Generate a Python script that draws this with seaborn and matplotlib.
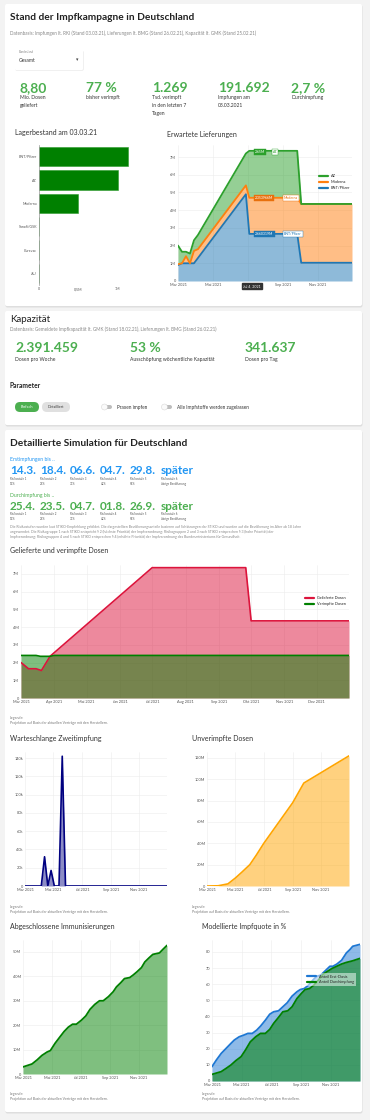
#%% imports
import numpy as np
import pandas as pd
import matplotlib
matplotlib.use('Agg')
import matplotlib.pyplot as plt
import seaborn as sns
from matplotlib.patches import FancyBboxPatch, Circle
from matplotlib.lines import Line2D

#%% data
lager_hersteller = ['BNT/Pfizer', 'AZ', 'Moderna', 'Sanofi/GSK', 'Curevac', 'J&J']
lager_bestand = [1.13e6, 1.0e6, 0.5e6, 0, 0, 0]

liefer_daten = ['2021-03-01', '2021-03-08', '2021-03-15', '2021-03-22', '2021-03-29', '2021-04-05',
                '2021-06-28', '2021-07-04', '2021-09-26', '2021-10-03', '2021-12-31']
liefer_bnt = [0.9, 1.0, 1.0, 1.0, 1.0, 1.3, 4.9, 2.66, 2.66, 1.03, 1.03]
liefer_moderna = [0.05, 0.0, 0.4, 0.0, 0.7, 0.5, 0.5, 2.04, 2.04, 3.32, 3.32]
liefer_az = [1.05, 0.65, 0.25, 0.55, 0.6, 0.8, 1.8, 2.65, 2.65, 0.0, 0.0]

geliefert_daten = ['2021-03-01', '2021-03-08', '2021-03-15', '2021-03-20', '2021-03-28',
                   '2021-07-01', '2021-09-26', '2021-10-01', '2021-12-31']
geliefert_werte = [2.0, 1.65, 1.65, 1.55, 2.35, 7.35, 7.35, 4.35, 4.35]
verimpft_daten = ['2021-03-01', '2021-03-15', '2021-03-19', '2021-03-28', '2021-04-01', '2021-12-31']
verimpft_werte = [2.4, 2.4, 2.35, 2.35, 2.4, 2.4]

warte_daten = ['2021-03-01', '2021-04-05', '2021-04-12', '2021-04-19', '2021-04-26', '2021-05-03',
               '2021-05-13', '2021-05-20', '2021-05-27', '2021-12-31']
warte_werte = [0, 0, 32000, 0, 17000, 0, 0, 142000, 0, 0]

unverimpft_daten = ['2021-03-01', '2021-03-25', '2021-04-15', '2021-05-01', '2021-05-15', '2021-06-01',
                    '2021-06-15', '2021-07-01', '2021-08-01', '2021-09-01', '2021-09-25', '2021-12-31']
unverimpft_werte = [0, 0.2, 2.0, 7.5, 13, 20, 29, 40, 59, 78, 96.5, 122]

immun_daten = ['2021-03-01', '2021-03-20', '2021-03-31', '2021-04-10', '2021-04-21', '2021-04-28',
               '2021-05-08', '2021-05-19', '2021-05-27', '2021-06-05', '2021-06-14', '2021-06-22',
               '2021-07-03', '2021-07-12', '2021-07-21', '2021-07-31', '2021-08-10', '2021-08-18',
               '2021-08-29', '2021-09-08', '2021-09-15', '2021-09-24', '2021-10-02', '2021-10-13',
               '2021-10-20', '2021-10-28', '2021-11-07', '2021-11-14', '2021-11-23', '2021-12-01',
               '2021-12-08', '2021-12-15', '2021-12-22', '2021-12-31']
immun_werte = [2.9, 4.1, 5.8, 7.6, 9.0, 9.6, 12.6, 15.4, 17.4, 19.2, 20.4, 20.4, 22.1, 23.8, 26.5,
               28.5, 30.0, 30.0, 31.7, 33.7, 35.7, 37.4, 39.1, 39.5, 40.5, 41.8, 43.6, 45.9, 47.6,
               49.0, 49.3, 49.6, 51.0, 52.7]

erst_daten = ['2021-03-01', '2021-03-10', '2021-03-20', '2021-03-30', '2021-04-09', '2021-04-16',
              '2021-04-26', '2021-05-06', '2021-05-14', '2021-05-23', '2021-06-01', '2021-06-09',
              '2021-06-19', '2021-06-28', '2021-07-06', '2021-07-16', '2021-07-25', '2021-08-03',
              '2021-08-13', '2021-08-23', '2021-08-30', '2021-09-07', '2021-09-16', '2021-09-26',
              '2021-10-03', '2021-10-11', '2021-10-20', '2021-10-30', '2021-11-05', '2021-11-13',
              '2021-11-23', '2021-12-03', '2021-12-10', '2021-12-16', '2021-12-31']
erst_werte = [8.9, 13.0, 17.1, 20.2, 23.3, 25.4, 27.4, 28.5, 29.5, 29.5, 31.5, 34.0, 37.7, 41.4,
              42.9, 43.5, 46.0, 48.5, 52.6, 55.3, 56.7, 57.3, 59.4, 62.9, 64.9, 65.6, 68.2, 71.1,
              71.1, 72.4, 74.8, 79.4, 81.4, 83.5, 84.7]
durch_daten = ['2021-03-01', '2021-03-20', '2021-03-30', '2021-04-09', '2021-04-19', '2021-04-30',
               '2021-05-09', '2021-05-19', '2021-05-30', '2021-06-09', '2021-06-19', '2021-06-28',
               '2021-07-06', '2021-07-16', '2021-07-25', '2021-08-04', '2021-08-13', '2021-08-23',
               '2021-09-01', '2021-09-09', '2021-09-18', '2021-09-27', '2021-10-06', '2021-10-16',
               '2021-10-23', '2021-11-03', '2021-11-13', '2021-11-23', '2021-12-03', '2021-12-16',
               '2021-12-31']
durch_werte = [4.1, 5.8, 7.8, 9.9, 12.6, 15.1, 19.2, 24.3, 27.4, 29.5, 29.5, 32.0, 35.7, 39.4,
               42.9, 43.5, 46.0, 51.1, 54.2, 56.7, 57.3, 59.4, 62.5, 66.2, 67.6, 69.7, 71.1, 72.5,
               73.5, 74.5, 76.0]

kpi_werte = ['8,80', '77 %', '1.269', '191.692', '2,7 %']
kpi_texte = ['Mio. Dosen\ngeliefert', 'bisher verimpft', 'Tsd. verimpft\nin den letzten 7\nTagen',
             'Impfungen am\n03.03.2021', 'Durchimpfung']
kap_werte = ['2.391.459', '53 %', '341.637']
kap_texte = ['Dosen pro Woche', 'Ausschöpfung wöchentliche Kapazität', 'Dosen pro Tag']
erst_bis = ['14.3.', '18.4.', '06.6.', '04.7.', '29.8.', 'später']
durch_bis = ['25.4.', '23.5.', '04.7.', '01.8.', '26.9.', 'später']
stufen_anteil = ['13%', '23%', '31%', '42%', '54%', 'übrige Bevölkerung']

monate = ['2021-03-01', '2021-04-01', '2021-05-01', '2021-06-01', '2021-07-01', '2021-08-01',
          '2021-09-01', '2021-10-01', '2021-11-01', '2021-12-01']
monat_labels = ['Mar 2021', 'Apr 2021', 'Mai 2021', 'Jun 2021', 'Jul 2021', 'Aug 2021',
                'Sep 2021', 'Okt 2021', 'Nov 2021', 'Dez 2021']

#%% setup
sns.set_theme(style='white')
plt.rcParams['font.family'] = ['Lato', 'DejaVu Sans']

W, H = 370, 1120
fig = plt.figure(figsize=(W / 100, H / 100), dpi=100)
fig.patch.set_facecolor('#f3f3f3')

bg = fig.add_axes([0, 0, 1, 1])
bg.set_xlim(0, W)
bg.set_ylim(H, 0)
bg.axis('off')
bg.set_zorder(-5)

# overlay for tooltips drawn above the charts
top = fig.add_axes([0, 0, 1, 1])
top.set_xlim(0, W)
top.set_ylim(H, 0)
top.axis('off')
top.patch.set_alpha(0)
top.set_zorder(10)

GREEN = '#4caf50'
BLUE = '#2196f3'
START, END = pd.Timestamp('2021-03-01'), pd.Timestamp('2021-12-31')


def box(x0, y0, x1, y1, fc='white', ec='none', r=0.0, lw=0, z=1):
    bg.add_patch(FancyBboxPatch((x0, y0), x1 - x0, y1 - y0,
                                boxstyle=f'round,pad=0,rounding_size={r}',
                                fc=fc, ec=ec, lw=lw, zorder=z))


def t(x, y, s, size, color='#333333', weight='normal', ha='left', va='center', **kw):
    bg.text(x, y, s, fontsize=size, color=color, fontweight=weight, ha=ha, va=va, **kw)


def px_axes(x0, y0, x1, y1):
    return fig.add_axes([x0 / W, 1 - y1 / H, (x1 - x0) / W, (y1 - y0) / H])


def style_chart(ax, ymax, yticks, ylabels, step=2, xlabels=None):
    ax.set_facecolor('white')
    ax.set_xlim(START, END)
    ax.set_ylim(0, ymax)
    ax.set_yticks(yticks)
    ax.set_yticklabels(ylabels)
    ax.set_xticks(pd.to_datetime(monate[::step]))
    ax.set_xticklabels(xlabels if xlabels is not None else monat_labels[::step])
    ax.tick_params(labelsize=2.8, colors='#555555', length=0, pad=1.5)
    ax.grid(color='#ececec', lw=0.4)
    ax.set_axisbelow(True)
    for s in ax.spines.values():
        s.set_visible(False)
    ax.set_xlabel('')
    ax.set_ylabel('')


def legende(x, y):
    t(x, y, 'Legende:', 2.5, color='#777777')
    t(x, y + 5, 'Projektion auf Basis der aktuellen Verträge mit den Herstellern.', 2.5, color='#777777')


# cards
for (x0, y0, x1, y1) in [(5, 4, 362, 306), (5, 311, 362, 425), (5, 430, 362, 1112)]:
    box(x0 + 0.5, y0 + 1, x1 + 0.5, y1 + 1.5, fc='#dedede', r=2)
    box(x0, y0, x1, y1, fc='white', r=2, z=2)

#%% card 1
t(10, 17, 'Stand der Impfkampagne in Deutschland', 7.3, color='#222222', weight='bold')
t(10, 33, 'Datenbasis: Impfungen lt. RKI (Stand 03.03.21), Lieferungen lt. BMG (Stand 26.02.21), '
          'Kapazität lt. GMK (Stand 25.02.21)', 3.3, color='#888888')
box(15.5, 51, 83.5, 70.5, fc='#e2e2e2', r=1, z=3)
box(15, 50, 83, 70, fc='white', r=1, z=3)
t(19, 52, 'Bundesland', 2.1, color='#888888', zorder=4)
t(19, 61, 'Gesamt', 3.6, color='#333333', zorder=4)
t(77, 60, '▾', 3.5, color='#444444', ha='center', zorder=4)
for x, wert, text in zip([20, 86, 152, 218, 291], kpi_werte, kpi_texte):
    t(x, 88, wert, 10, color=GREEN, weight='bold', zorder=4)
    t(x, 95, text, 3.6, color='#333333', va='top', linespacing=1.7, zorder=4)

# Lagerbestand
t(15, 133, 'Lagerbestand am 03.03.21', 5, color='#333333', zorder=4)
ax = px_axes(39, 145, 161, 285)
sns.barplot(x=lager_bestand, y=lager_hersteller, orient='h', color='#008000', saturation=1,
            width=0.82, edgecolor='#2e9a2e', linewidth=0.4, ax=ax)
ax.set_xlim(0, 1.55e6)
ax.set_xticks([0, 0.5e6, 1e6])
ax.set_xticklabels(['0', '0,5M', '1M'])
ax.tick_params(labelsize=2.6, colors='#555555', length=0, pad=1.5)
for s in ['top', 'right', 'bottom']:
    ax.spines[s].set_visible(False)
ax.spines['left'].set_color('#999999')
ax.spines['left'].set_linewidth(0.5)
ax.set_xlabel('')
ax.set_ylabel('')

# Erwartete Lieferungen
t(167, 134, 'Erwartete Lieferungen', 5, color='#333333', zorder=4)
ax = px_axes(178, 145, 352, 281)
ld = pd.to_datetime(liefer_daten)
stack = np.array([liefer_bnt, liefer_moderna, liefer_az]) * 1e6
farben = ['#1f77b4', '#ff7f0e', '#2ca02c']
namen = ['BNT/Pfizer', 'Moderna', 'AZ']
ax.stackplot(ld, stack, colors=farben, alpha=0.5, lw=0)
for kurve, col in zip(stack.cumsum(axis=0), farben):
    sns.lineplot(x=ld, y=kurve, ax=ax, color=col, lw=1.3, legend=False)
# the "Jul 2021" tick sits under the hover tooltip
style_chart(ax, 7.68e6, np.arange(0, 8) * 1e6, ['0'] + [f'{i}M' for i in range(1, 8)],
            xlabels=['Mar 2021', 'Mai 2021', '', 'Sep 2021', 'Nov 2021'])
handles = [Line2D([], [], color=c, lw=1.6) for c in farben[::-1]]
ax.legend(handles, namen[::-1], loc='upper left', bbox_to_anchor=(0.8, 0.8), fontsize=2.8,
          frameon=False, handlelength=2.2, labelspacing=0.5, borderpad=0)
# hover labels
for y, wert, name, col in [(152, '2.65M', 'AZ', '#2ca02c'), (198, '2.353966M', 'Moderna', '#e8700c'),
                           (234, '2.660319M', 'BNT/Pfizer', '#1f77b4')]:
    top.text(255, y, wert, fontsize=2.5, color='white', va='center',
             bbox=dict(boxstyle='square,pad=0.35', fc=col, ec=col, lw=0.3))
    top.text(256 + 2.75 * len(wert) + 3, y, name, fontsize=2.5, color=col, va='center',
             bbox=dict(boxstyle='square,pad=0.35', fc='white', ec=col, lw=0.3))
top.text(252, 286, 'Jul 4, 2021', fontsize=2.6, color='white', va='center', ha='center',
         bbox=dict(boxstyle='square,pad=0.4', fc='#333333', ec='#333333'))

#%% card 2
t(10, 319, 'Kapazität', 7, color='#222222')
t(10, 329, 'Datenbasis: Gemeldete Impfkapazität lt. GMK (Stand 18.02.21), '
          'Lieferungen lt. BMG (Stand 26.02.21)', 3.3, color='#888888')
for x, wert, text in zip([15, 130, 245], kap_werte, kap_texte):
    t(x, 348, wert, 10, color=GREEN, weight='bold')
    t(x, 359, text, 3.6, color='#333333')
t(10, 386, 'Parameter', 4.8, color='#222222', weight='bold')
box(15, 402, 39, 412, fc=GREEN, r=5, z=3)
t(27, 407, 'Einfach', 2.8, color='white', ha='center', zorder=4)
box(42, 402, 70, 412, fc='#e0e0e0', r=5, z=3)
t(56, 407, 'Detailliert', 2.8, color='#444444', ha='center', zorder=4)
for x, text in [(102, 'Praxen impfen'), (162, 'Alle Impfstoffe werden zugelassen')]:
    box(x, 405, x + 10, 409, fc='#bdbdbd', r=2, z=3)
    bg.add_patch(Circle((x + 2.5, 407), 3, fc='#fafafa', ec='#cccccc', lw=0.3, zorder=4))
    t(x + 15, 407, text, 3.4, color='#333333', zorder=4)

#%% card 3
t(10, 443, 'Detaillierte Simulation für Deutschland', 7.3, color='#222222', weight='bold')
for y0, titel, werte, col in [(460, 'Erstimpfungen bis ..', erst_bis, BLUE),
                              (495, 'Durchimpfung bis ..', durch_bis, GREEN)]:
    t(10, y0, titel, 3.7, color=col)
    for i, (x, wert) in enumerate(zip([10, 40, 70, 100, 130, 161], werte)):
        t(x, y0 + 11, wert, 8.5, color=col, weight='bold')
        t(x, y0 + 19, f'Risikostufe {i + 1}', 2.1, color='#555555')
        t(x, y0 + 24, stufen_anteil[i], 2.1, color='#555555')
absatz = [
    'Die Risikostufen wurden laut STIKO-Empfehlung gebildet. Die dargestellten Bevölkerungsanteile basieren '
    'auf Schätzungen der STIKO und wurden auf die Bevölkerung im Alter ab 18 Jahre',
    'angewendet. Die Risikogruppe 1 nach STIKO entspricht § 2 (höchste Priorität) der Impfverordnung; '
    'Risikogruppen 2 und 3 nach STIKO entsprechen § 3 (hohe Priorität) der',
    'Impfverordnung; Risikogruppen 4 und 5 nach STIKO entsprechen § 4 (erhöhte Priorität) der Impfverordnung '
    'des Bundesministeriums für Gesundheit.']
for i, zeile in enumerate(absatz):
    t(10, 527 + 5 * i, zeile, 2.55, color='#888888')

# Gelieferte und verimpfte Dosen
t(10, 551, 'Gelieferte und verimpfte Dosen', 5, color='#333333')
ax = px_axes(21, 565, 349, 698)
gd = pd.to_datetime(geliefert_daten)
vd = pd.to_datetime(verimpft_daten)
gw = np.array(geliefert_werte) * 1e6
vw = np.array(verimpft_werte) * 1e6
ax.fill_between(gd, gw, color='#dc143c', alpha=0.5, lw=0)
sns.lineplot(x=gd, y=gw, ax=ax, color='#dc143c', lw=1.2, legend=False)
ax.fill_between(vd, vw, color='#008000', alpha=0.5, lw=0)
sns.lineplot(x=vd, y=vw, ax=ax, color='#008000', lw=1.2, legend=False)
style_chart(ax, 7.5e6, np.arange(0, 8) * 1e6, ['0'] + [f'{i}M' for i in range(1, 8)], step=1)
ax.legend([Line2D([], [], color='#dc143c', lw=1.6), Line2D([], [], color='#008000', lw=1.6)],
          ['Gelieferte Dosen', 'Verimpfte Dosen'], loc='upper left', bbox_to_anchor=(0.86, 0.78),
          fontsize=2.8, frameon=False, handlelength=2.2, labelspacing=0.5, borderpad=0)
legende(10, 718)

# Warteschlange Zweitimpfung
t(10, 739, 'Warteschlange Zweitimpfung', 5, color='#333333')
ax = px_axes(25, 752, 167, 886)
wd = pd.to_datetime(warte_daten)
ax.fill_between(wd, warte_werte, color='#000080', alpha=0.45, lw=0)
sns.lineplot(x=wd, y=warte_werte, ax=ax, color='#000080', lw=1.2, legend=False)
style_chart(ax, 146600, np.arange(0, 141000, 20000), ['0'] + [f'{i}k' for i in range(20, 141, 20)])
legende(10, 907)

# Unverimpfte Dosen
t(192, 739, 'Unverimpfte Dosen', 5, color='#333333')
ax = px_axes(207, 752, 349, 886)
ud = pd.to_datetime(unverimpft_daten)
uw = np.array(unverimpft_werte) * 1e6
ax.fill_between(ud, uw, color='#ffa500', alpha=0.5, lw=0)
sns.lineplot(x=ud, y=uw, ax=ax, color='#ffa500', lw=1.2, legend=False)
style_chart(ax, 125.6e6, np.arange(0, 121, 20) * 1e6, ['0'] + [f'{i}M' for i in range(20, 121, 20)])
legende(192, 907)

# Abgeschlossene Immunisierungen
t(10, 927, 'Abgeschlossene Immunisierungen', 5, color='#333333')
ax = px_axes(23, 940, 167, 1074)
idt = pd.to_datetime(immun_daten)
iw = np.array(immun_werte) * 1e6
ax.fill_between(idt, iw, color='#008000', alpha=0.5, lw=0)
sns.lineplot(x=idt, y=iw, ax=ax, color='#008000', lw=1.3, legend=False)
style_chart(ax, 54.9e6, np.arange(0, 51, 10) * 1e6, ['0'] + [f'{i}M' for i in range(10, 51, 10)])
legende(10, 1094)

# Modellierte Impfquote
t(202, 927, 'Modellierte Impfquote in %', 5, color='#333333')
ax = px_axes(212, 940, 360, 1081)
ed = pd.to_datetime(erst_daten)
dd = pd.to_datetime(durch_daten)
ax.fill_between(ed, erst_werte, color='#1e77d3', alpha=0.5, lw=0)
sns.lineplot(x=ed, y=erst_werte, ax=ax, color='#1e77d3', lw=1.3, legend=False)
ax.fill_between(dd, durch_werte, color='#008000', alpha=0.55, lw=0)
sns.lineplot(x=dd, y=durch_werte, ax=ax, color='#008000', lw=1.3, legend=False)
style_chart(ax, 87.4, np.arange(0, 81, 10), [str(i) for i in range(0, 81, 10)])
ax.legend([Line2D([], [], color='#1e77d3', lw=1.6), Line2D([], [], color='#008000', lw=1.6)],
          ['Anteil Erst-Dosis', 'Anteil Durchimpfung'], loc='upper left',
          bbox_to_anchor=(0.62, 0.78), fontsize=2.8, frameon=True, framealpha=0.5,
          facecolor='white', edgecolor='none', handlelength=2.2, labelspacing=0.5,
          borderpad=0.4, fancybox=False)
legende(202, 1094)

fig.savefig('out.png', dpi=100, facecolor=fig.get_facecolor())
